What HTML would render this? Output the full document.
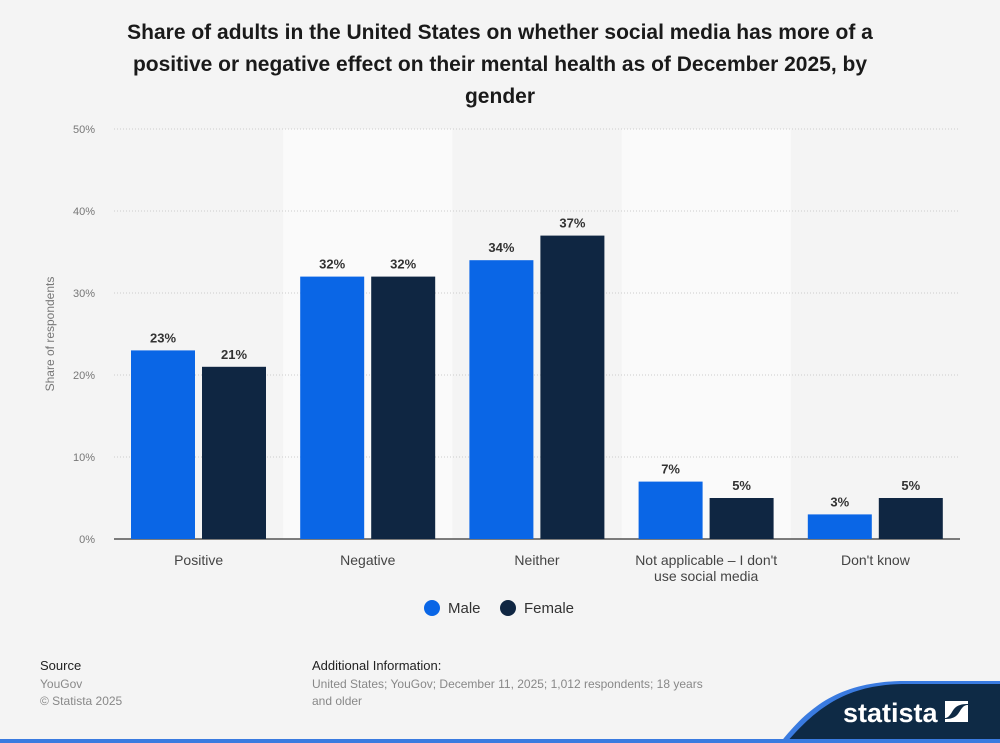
<!DOCTYPE html>
<html><head><meta charset="utf-8"><style>
body{margin:0;width:1000px;height:743px;background:#f4f4f4;font-family:"Liberation Sans",sans-serif;overflow:hidden;position:relative}
.t{position:absolute;left:0;width:1000px;top:17px;text-align:center;font-weight:bold;font-size:21px;line-height:32px;color:#1a1a1a}
.f{position:absolute;font-size:12px;color:#888}
.f b{color:#222;font-weight:normal;font-size:13px;display:block;margin-bottom:2px}
</style></head><body>
<div class="t">Share of adults in the United States on whether social media has more of a<br>positive or negative effect on their mental health as of December 2025, by<br>gender</div>
<svg id="c" width="1000" height="743" style="position:absolute;left:0;top:0"></svg>
<div class="f" style="left:40px;top:657px;line-height:17px"><b>Source</b>YouGov<br>© Statista 2025</div>
<div class="f" style="left:312px;top:657px;line-height:17px;width:410px"><b>Additional Information:</b>United States; YouGov; December 11, 2025; 1,012 respondents; 18 years and older</div>
<svg width="1000" height="743" style="position:absolute;left:0;top:0">
<path d="M780 743 C810 705 840 683 900 681 L1000 681 L1000 743 Z" fill="#3a7be0"/>
<path d="M786 743 C816 708 846 685 902 684 L1000 684 L1000 743 Z" fill="#0e2a45"/>
<rect x="0" y="739" width="1000" height="4" fill="#3a7be0"/>
<text x="843" y="722" fill="#fff" font-size="27" font-weight="bold" font-family="Liberation Sans, sans-serif">statista</text>
<path d="M945 701 h23 v3 c-10 0 -13 3 -16 8 c-3 5 -5 6 -7 6 z M968 722 h-23 v-3 c9 0 12 -3 15 -8 c3 -5 5 -6 8 -6 z" fill="#fff"/>
</svg>
<script>
const categories=["Positive","Negative","Neither","Not applicable – I don't|use social media","Don't know"];
const male=[23,32,34,7,3];
const female=[21,32,37,5,5];
const ticks=[0,10,20,30,40,50];
const NS="http://www.w3.org/2000/svg";
const svg=document.getElementById('c');
const x0=114,x1=960,y0=539,yTop=129,max=50;
const bw=(x1-x0)/categories.length;
const y=v=>y0-(v/max)*(y0-yTop);
function el(t,a,p){const e=document.createElementNS(NS,t);for(const k in a)e.setAttribute(k,a[k]);(p||svg).appendChild(e);return e;}
categories.forEach((c,i)=>{if(i%2===1){const r=el('rect',{x:x0+i*bw,y:yTop,width:bw,height:y0-yTop,fill:'#fafafa'});

}});
ticks.forEach(t=>{const l=el('line',{x1:x0,x2:x1,y1:y(t),y2:y(t),stroke:t?'#ccc':'#333','stroke-dasharray':t?'1,2':'none','stroke-width':t?1:1.2});


const tx=el('text',{x:95,y:y(t)+4,'text-anchor':'end','font-size':11,fill:'#777'});tx.textContent=t+'%';

});
const yt=el('text',{transform:'translate(54,334) rotate(-90)','text-anchor':'middle','font-size':12,fill:'#777'});yt.textContent='Share of respondents';


categories.forEach((c,i)=>{
 const cx=x0+i*bw;
 [[male,'#0a66e6',17],[female,'#0f2642',88]].forEach(([s,col,off],j)=>{
  const v=s[i];
  const r=el('rect',{x:cx+off,y:y(v),width:64,height:y0-y(v),fill:col});
  
  
  const t=el('text',{x:cx+off+32,y:y(v)-8,'text-anchor':'middle','font-size':13,'font-weight':'bold',fill:'#333'});t.textContent=v+'%';
  
  
 });
 c.split('|').forEach((ln,k)=>{const t=el('text',{x:cx+bw/2,y:565+k*16,'text-anchor':'middle','font-size':14,fill:'#444'});t.textContent=ln;
 
 });
});
[['Male','#0a66e6',432],['Female','#0f2642',508]].forEach(([n,col,lx])=>{
 const g=el('g',{});
 
 
 el('circle',{cx:lx,cy:608,r:8,fill:col},g);
 const t=el('text',{x:lx+16,y:613,'font-size':15,fill:'#333'},g);t.textContent=n;
});
</script>
</body></html>
